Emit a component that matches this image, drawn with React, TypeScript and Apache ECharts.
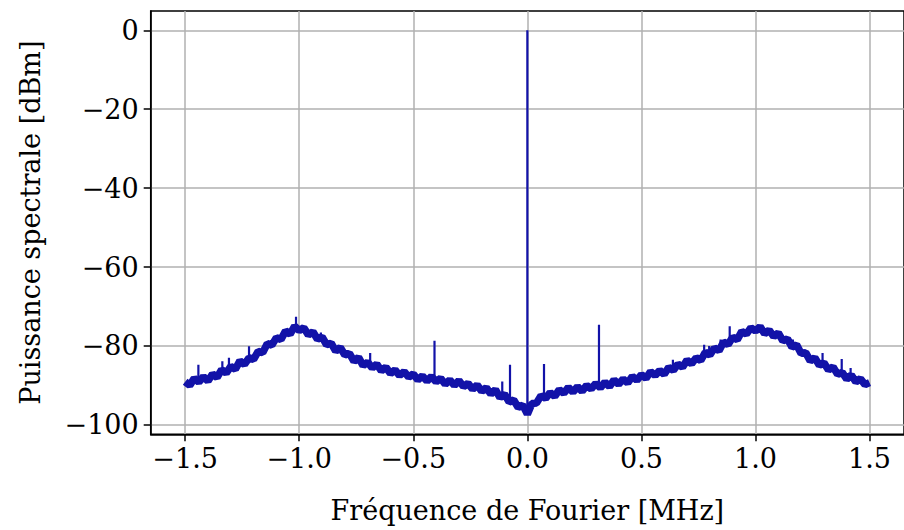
import React, { useEffect, useRef } from "react";
import * as echarts from "echarts";

// Frequency grid start/step (MHz) and the band values (dBm)
const freqStart = -1.5;
const freqStep = 0.02;
const power = [
  -89.1, -90.0, -88.2, -89.2, -87.8, -88.9, -87.1, -88.0, -86.0, -86.9,
  -85.2, -85.9, -83.8, -84.7, -83.0, -83.4, -81.4, -81.7, -79.4, -79.8,
  -77.9, -78.4, -76.2, -77.0, -75.0, -76.1, -75.4, -77.2, -76.4, -78.3,
  -77.7, -79.7, -79.3, -81.3, -80.4, -82.3, -81.9, -83.9, -82.9, -85.0,
  -84.1, -85.6, -84.6, -86.3, -85.4, -87.0, -86.1, -87.5, -86.5, -87.9,
  -87.1, -88.6, -87.6, -88.9, -87.7, -89.1, -88.2, -89.7, -88.6, -90.0,
  -88.8, -90.3, -89.5, -91.0, -89.9, -91.5, -90.6, -92.2, -91.1, -93.1,
  -92.2, -94.2, -93.7, -95.6, -95.0, -97.3, -94.6, -94.5, -92.6, -93.3,
  -91.8, -92.8, -91.1, -92.0, -90.5, -91.7, -90.3, -91.5, -90.0, -90.9,
  -89.5, -90.6, -89.2, -90.3, -88.6, -89.7, -88.4, -89.4, -87.7, -88.7,
  -87.3, -88.2, -86.5, -87.5, -86.2, -87.2, -85.4, -86.2, -84.6, -85.4,
  -83.6, -84.5, -83.0, -83.7, -81.6, -82.3, -80.5, -81.2, -79.0, -79.6,
  -77.8, -78.4, -76.3, -77.0, -75.4, -76.2, -75.1, -76.9, -76.0, -77.6,
  -76.7, -78.7, -78.2, -80.3, -79.7, -81.9, -81.7, -83.8, -83.0, -84.9,
  -84.3, -86.1, -85.3, -87.2, -86.7, -88.4, -87.4, -89.1, -88.3, -89.8,
  -89.3,
];

// Narrow spurious lines / noise peaks: frequency (MHz) and peak level (dBm)
const spikeFreqs = [
  -1.442, -1.337, -1.308, -1.22, -1.014, -0.905, -0.862, -0.79, -0.689,
  -0.407, -0.11, -0.076, 0.0, 0.073, 0.314,
  0.638, 0.775, 0.797, 0.847, 0.887, 1.085, 1.164, 1.294, 1.378, 1.417,
];
const spikeTops = [
  -84.8, -83.9, -83.0, -80.1, -72.6, -76.6, -78.9, -81.0, -81.8,
  -78.7, -89.0, -84.8, 0.0, -84.6, -74.6,
  -83.5, -79.7, -80.0, -78.4, -75.0, -76.7, -78.4, -81.8, -83.3, -85.6,
];

const xTicks = [-1.5, -1.0, -0.5, 0.0, 0.5, 1.0, 1.5];
const yTicks = [-100, -80, -60, -40, -20, 0];

const FONT = "DejaVu Serif";
const COLOR = "#1212a8";

const bandData: [number, number][] = power.map((v, i) => [
  +(freqStart + i * freqStep).toFixed(4),
  v,
]);

function baseAt(f: number) {
  const t = (f - freqStart) / freqStep;
  const i0 = Math.max(0, Math.min(power.length - 2, Math.floor(t)));
  const r = t - i0;
  return power[i0] * (1 - r) + power[i0 + 1] * r;
}

const fmtMinus = (s: string) => s.replace("-", "\u2212");

export default function App() {
  const ref = useRef<HTMLDivElement>(null);
  useEffect(() => {
    if (!ref.current) return;
    const chart = echarts.init(ref.current, null, { renderer: "svg" });
    const spikeSeries = spikeFreqs.map((f, k) => ({
      type: "line",
      data: [
        [f, baseAt(f)],
        [f, spikeTops[k]],
      ],
      showSymbol: false,
      symbol: "none",
      clip: true,
      lineStyle: { color: COLOR, width: 2.2 },
      z: 3,
    }));
    chart.setOption({
      animation: false,
      backgroundColor: "#ffffff",
      grid: {
        left: 150.7,
        right: -10.2,
        top: 11,
        bottom: 95.7,
        show: true,
        borderColor: "#000000",
        borderWidth: 1.5,
        backgroundColor: "transparent",
        containLabel: false,
      },
      xAxis: {
        type: "value",
        min: -1.651,
        max: 1.651,
        name: "Fréquence de Fourier [MHz]",
        nameLocation: "middle",
        nameGap: 63,
        nameTextStyle: { fontFamily: FONT, fontSize: 27, color: "#000" },
        axisLine: { show: true, onZero: false, lineStyle: { color: "#000", width: 1.5 } },
        axisTick: {
          show: true,
          inside: false,
          length: 7,
          lineStyle: { color: "#000", width: 1.5 },
          customValues: xTicks,
        },
        axisLabel: {
          customValues: xTicks,
          fontFamily: FONT,
          fontSize: 27,
          color: "#000",
          margin: 11,
          formatter: (v: number) => fmtMinus(v.toFixed(1)),
        },
        splitLine: { show: true, lineStyle: { color: "#b0b0b0", width: 1.5 } },
      },
      yAxis: {
        type: "value",
        min: -102.4,
        max: 4.9,
        name: "Puissance spectrale [dBm]",
        nameLocation: "middle",
        nameGap: 107,
        nameRotate: 90,
        nameTextStyle: { fontFamily: FONT, fontSize: 27, color: "#000" },
        axisLine: { show: true, onZero: false, lineStyle: { color: "#000", width: 1.5 } },
        axisTick: {
          show: true,
          inside: false,
          length: 7,
          lineStyle: { color: "#000", width: 1.5 },
          customValues: yTicks,
        },
        axisLabel: {
          customValues: yTicks,
          fontFamily: FONT,
          fontSize: 27,
          color: "#000",
          margin: 12,
          formatter: (v: number) => fmtMinus(String(v)),
        },
        splitLine: { show: true, lineStyle: { color: "#b0b0b0", width: 1.5 } },
      },
      series: [
        {
          type: "line",
          data: bandData,
          showSymbol: false,
          symbol: "none",
          clip: true,
          lineStyle: { color: COLOR, width: 7.5, join: "bevel", cap: "butt" },
          z: 4,
        },
        ...spikeSeries,
      ],
    });
    return () => chart.dispose();
  }, []);
  return (
    <div
      ref={ref}
      style={{ position: "fixed", left: 0, top: 0, width: 904, height: 530 }}
    />
  );
}
